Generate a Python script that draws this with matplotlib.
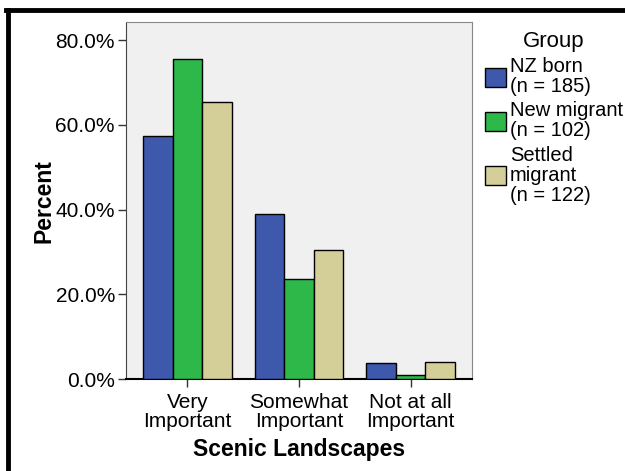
import numpy as np
import matplotlib.pyplot as plt
from matplotlib.lines import Line2D
from matplotlib.ticker import FuncFormatter

plt.rcParams['font.family'] = ['Liberation Sans', 'DejaVu Sans']

# Данные (в процентах)
categories = ['Very\nImportant', 'Somewhat\nImportant', 'Not at all\nImportant']
groups = ['NZ born\n(n = 185)', 'New migrant\n(n = 102)', 'Settled\nmigrant\n(n = 122)']
nz_born = [57.3, 38.9, 3.8]
new_migrant = [75.5, 23.6, 1.0]
settled_migrant = [65.5, 30.4, 4.1]
colors = ['#3e58ac', '#2eb84a', '#d4ce98']

fig = plt.figure(figsize=(6.25, 4.71), dpi=100)
ax = fig.add_axes([0.2016, 0.1947, 0.5536, 0.758])
ax.set_facecolor('#f0f0f0')

x = np.arange(len(categories))
w = 0.265
for i, (vals, lab) in enumerate(zip([nz_born, new_migrant, settled_migrant], groups)):
    ax.bar(x + (i - 1) * w, vals, w, color=colors[i], edgecolor='black',
           linewidth=1.0, label=lab, zorder=3)

ax.set_xlim(-0.55, 2.55)
ax.set_ylim(0, 84.2)
ax.set_yticks([0, 20, 40, 60, 80])
ax.yaxis.set_major_formatter(FuncFormatter(lambda v, p: f'{v:.1f}%'))
ax.set_xticks(x)
ax.set_xticklabels(categories, linespacing=1.0)
ax.tick_params(axis='both', labelsize=15, length=6, width=1, color='#333333', pad=2)
ax.tick_params(axis='x', pad=4)

for s in ['top', 'right']:
    ax.spines[s].set_color('#888888')
ax.spines['left'].set_color('#444444')
ax.spines['bottom'].set_color('black')
ax.spines['bottom'].set_linewidth(1.5)

ax.set_ylabel('Percent', fontsize=16.5, fontweight='bold')
ax.yaxis.set_label_coords(-0.203, 0.5)
ax.set_xlabel('Scenic Landscapes', fontsize=16.5, fontweight='bold', labelpad=5)

leg = ax.legend(loc='upper left', bbox_to_anchor=(485 / 625, 1 - 31 / 471),
                bbox_transform=fig.transFigure, frameon=False, fontsize=14.5,
                title='Group', title_fontsize=16, borderpad=0, borderaxespad=0,
                handlelength=1.05, handleheight=1.05, handletextpad=0.2,
                labelspacing=0.25)
for t in leg.get_texts():
    t.set_linespacing(1.08)

# Рамка вокруг рисунка (слева и сверху)
fig.add_artist(Line2D([8 / 625, 8 / 625], [0, 1 - 10 / 471], color='black', lw=3.5,
                      transform=fig.transFigure))
fig.add_artist(Line2D([6 / 625, 1], [1 - 10 / 471, 1 - 10 / 471], color='black', lw=3.5,
                      transform=fig.transFigure))

fig.savefig('out.png', dpi=100)
